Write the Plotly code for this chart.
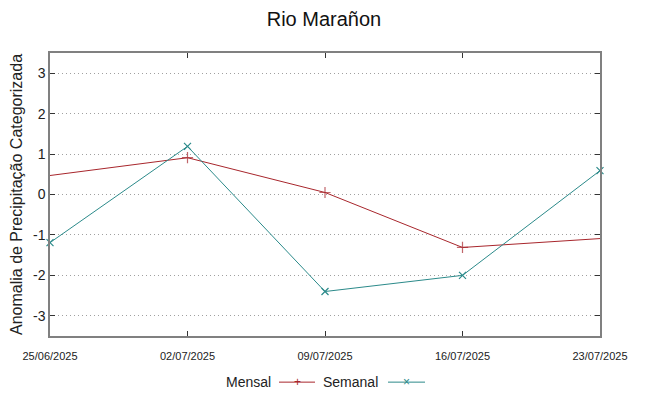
import plotly.graph_objects as go

dates = ["2025-06-25", "2025-07-02", "2025-07-09", "2025-07-16", "2025-07-23"]
tick_labels = ["25/06/2025", "02/07/2025", "09/07/2025", "16/07/2025", "23/07/2025"]
mensal = [0.47, 0.91, 0.05, -1.31, -1.09]
semanal = [-1.19, 1.19, -2.40, -2.00, 0.59]
yticks = [-3, -2, -1, 0, 1, 2, 3]
ytick_labels = ["-3", "-2", "-1", "0", "1", "2", "3"]

red = "#a8262c"
teal = "#2b8a8a"

fig = go.Figure()
fig.add_trace(go.Scatter(
    x=dates, y=mensal, mode="lines+markers", name="Mensal",
    line=dict(color=red, width=1),
    marker=dict(symbol="cross-thin", size=[0, 8, 8, 8, 0], line=dict(color=red, width=1.2), color=red),
    cliponaxis=False, showlegend=False))
fig.add_trace(go.Scatter(
    x=dates, y=semanal, mode="lines+markers", name="Semanal",
    line=dict(color=teal, width=1),
    marker=dict(symbol="x-thin", size=7, line=dict(color=teal, width=1.2), color=teal),
    cliponaxis=False, showlegend=False))

axis_col = "#808080"
fig.update_layout(
    width=648, height=396,
    margin=dict(l=50, r=48, t=53, b=60, autoexpand=False),
    paper_bgcolor="white", plot_bgcolor="white",
    font=dict(family="Liberation Sans, Arial, sans-serif", color="#222222"),
    title=dict(text="Rio Marañon", x=0.5, xanchor="center", y=0.952, yanchor="middle",
               font=dict(size=20, color="#111111")),
    xaxis=dict(type="date", range=[dates[0], dates[-1]], tickvals=dates, ticktext=tick_labels,
               showgrid=False, zeroline=False, showline=True, linecolor=axis_col, linewidth=1.5,
               mirror="ticks", ticks="inside", ticklen=5, tickcolor="#333333", automargin=False,
               ticklabelstandoff=9,
               tickfont=dict(size=11, family="Liberation Sans Narrow, Liberation Sans, Arial")),
    yaxis=dict(range=[-3.5, 3.5], tickvals=yticks, ticktext=ytick_labels, showgrid=True,
               gridcolor="#a0a0a0", griddash="1px,3px", gridwidth=1, zeroline=False, showline=True,
               linecolor=axis_col, linewidth=1.5, mirror="ticks", ticks="inside", ticklen=5,
               tickcolor="#333333", automargin=False, tickfont=dict(size=14),
               title=dict(text="Anomalia de Precipitação Categorizada", font=dict(size=16), standoff=6)),
)

# custom legend (text before sample, as in reference)
ly = -0.163
def px(xp):
    return (xp - 50) / 550.0

fig.add_annotation(text="Mensal", x=px(273), y=ly, xref="paper", yref="paper",
                   xanchor="right", yanchor="middle", showarrow=False, font=dict(size=14))
fig.add_shape(type="line", x0=px(279), x1=px(315), y0=ly, y1=ly, xref="paper", yref="paper",
              line=dict(color=red, width=1))
fig.add_annotation(text="+", x=px(297), y=ly, xref="paper", yref="paper",
                   xanchor="center", yanchor="middle", showarrow=False, font=dict(size=12, color=red))
fig.add_annotation(text="Semanal", x=px(380), y=ly, xref="paper", yref="paper",
                   xanchor="right", yanchor="middle", showarrow=False, font=dict(size=14))
fig.add_shape(type="line", x0=px(388), x1=px(425), y0=ly, y1=ly, xref="paper", yref="paper",
              line=dict(color=teal, width=1))
fig.add_annotation(text="×", x=px(406), y=ly, xref="paper", yref="paper",
                   xanchor="center", yanchor="middle", showarrow=False, font=dict(size=12, color=teal))

fig.write_html("out.html", config={"displayModeBar": False},
               post_script="document.body.style.margin='0';")
